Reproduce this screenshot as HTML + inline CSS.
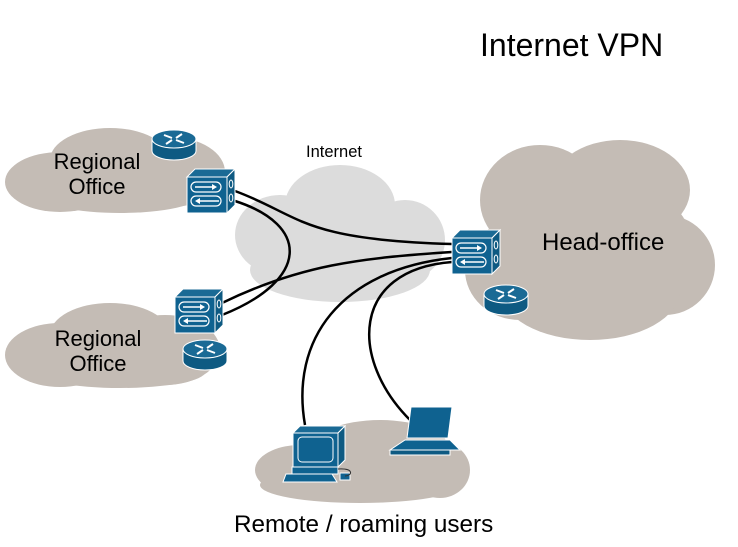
<!DOCTYPE html>
<html><head><meta charset="utf-8"><style>html,body{margin:0;padding:0;background:#fff}svg{display:block}</style></head>
<body>
<svg width="738" height="547" viewBox="0 0 738 547" xmlns="http://www.w3.org/2000/svg" font-family="Liberation Sans, sans-serif">
<defs>
<g id="fw">
<polygon points="0,8 8,0 48,0 40,8" fill="#1a6a95" stroke="#fff" stroke-width="1"/>
<polygon points="40,8 48,0 48,36 40,44" fill="#0e5a82" stroke="#fff" stroke-width="1"/>
<rect x="0" y="8" width="40" height="36" fill="#0f6290" stroke="#fff" stroke-width="1"/>
<rect x="4" y="13" width="30" height="10" rx="5" fill="none" stroke="#fff" stroke-width="1.2"/>
<rect x="4" y="27" width="30" height="10" rx="5" fill="none" stroke="#fff" stroke-width="1.2"/>
<line x1="8" y1="18" x2="28" y2="18" stroke="#fff" stroke-width="1.5"/><polygon points="30,18 25,15 25,21" fill="#fff"/>
<line x1="12" y1="32" x2="32" y2="32" stroke="#fff" stroke-width="1.5"/><polygon points="8,32 13,29 13,35" fill="#fff"/>
<ellipse cx="44" cy="15" rx="1.8" ry="4" fill="none" stroke="#fff"/>
<ellipse cx="44" cy="29" rx="1.8" ry="4" fill="none" stroke="#fff"/>
</g>
<g id="rt">
<path d="M0,10 v12 a22,9 0 0 0 44,0 v-12 z" fill="#0e5a82" stroke="#fff" stroke-width="1"/>
<ellipse cx="22" cy="10" rx="22" ry="9" fill="#1a6a95" stroke="#fff" stroke-width="1"/>
<path d="M12,6 l8,3 M32,14 l-8,-3 M30,5 l-6,4 M14,15 l6,-4" stroke="#fff" stroke-width="2"/>
</g>
</defs>
<g fill="#c4bcb5">
<ellipse cx="60" cy="182" rx="55" ry="30"/><ellipse cx="110" cy="160" rx="60" ry="32"/><ellipse cx="170" cy="172" rx="55" ry="35"/><ellipse cx="120" cy="195" rx="80" ry="18"/>
<ellipse cx="60" cy="355" rx="55" ry="32"/><ellipse cx="110" cy="335" rx="60" ry="32"/><ellipse cx="165" cy="350" rx="55" ry="35"/><ellipse cx="120" cy="372" rx="85" ry="16"/>
<ellipse cx="540" cy="200" rx="60" ry="55"/><ellipse cx="620" cy="190" rx="70" ry="50"/><ellipse cx="665" cy="265" rx="50" ry="50"/><ellipse cx="590" cy="290" rx="90" ry="50"/><ellipse cx="520" cy="270" rx="55" ry="50"/><ellipse cx="600" cy="240" rx="90" ry="60"/>
<ellipse cx="300" cy="470" rx="45" ry="25"/><ellipse cx="380" cy="450" rx="70" ry="30"/><ellipse cx="440" cy="470" rx="30" ry="28"/><ellipse cx="360" cy="485" rx="100" ry="18"/>
</g>
<g fill="#dcdcdc">
<ellipse cx="280" cy="235" rx="45" ry="40"/><ellipse cx="340" cy="205" rx="55" ry="40"/><ellipse cx="405" cy="240" rx="40" ry="40"/><ellipse cx="340" cy="270" rx="90" ry="32"/>
</g>
<g fill="none" stroke="#000" stroke-width="2.5">
<path d="M235,191 C300,215 300,240 452,244"/>
<path d="M235,201 C310,225 310,280 222,315"/>
<path d="M222,303 C300,265 360,258 452,252"/>
<path d="M305,425 C290,340 340,270 452,258"/>
<path d="M410,420 C350,360 350,270 452,262"/>
</g>
<use href="#fw" x="187" y="169"/>
<use href="#fw" x="175" y="289"/>
<use href="#fw" x="452" y="230"/>
<use href="#rt" x="152" y="129"/>
<use href="#rt" x="183" y="339"/>
<use href="#rt" x="484" y="284"/>
<g stroke="#fff" stroke-width="1">
<polygon points="293,433 300,426 345,426 338,433" fill="#1a6a95"/>
<polygon points="338,433 345,426 345,460 338,467" fill="#0e5a82"/>
<rect x="293" y="433" width="45" height="34" fill="#0f6290"/>
<rect x="298" y="437" width="35" height="25" rx="4" fill="#0f6290"/>
<rect x="292" y="467" width="46" height="7" fill="#0f6290"/>
<polygon points="286,474 332,474 337,482 283,482" fill="#0f6290"/>
<rect x="340" y="473" width="10" height="7" fill="#0f6290"/>
<polygon points="411,407 452,407 448,438 407,438" fill="#0f6290"/>
<polygon points="405,440 450,440 460,450 390,450" fill="#0f6290"/>
<rect x="390" y="450" width="60" height="5" fill="#0e5a82"/>
</g>
<path d="M338,469 C355,468 352,476 345,476" fill="none" stroke="#333" stroke-width="1"/>
<g fill="#000">
<text x="480" y="56" font-size="32">Internet VPN</text>
<text x="306" y="157" font-size="16.5">Internet</text>
<text x="97" y="169" font-size="22" text-anchor="middle">Regional</text>
<text x="97" y="194" font-size="22" text-anchor="middle">Office</text>
<text x="98" y="346" font-size="22" text-anchor="middle">Regional</text>
<text x="98" y="371" font-size="22" text-anchor="middle">Office</text>
<text x="542" y="250" font-size="24">Head-office</text>
<text x="234" y="532" font-size="24.3">Remote / roaming users</text>
</g>
</svg>
</body></html>
